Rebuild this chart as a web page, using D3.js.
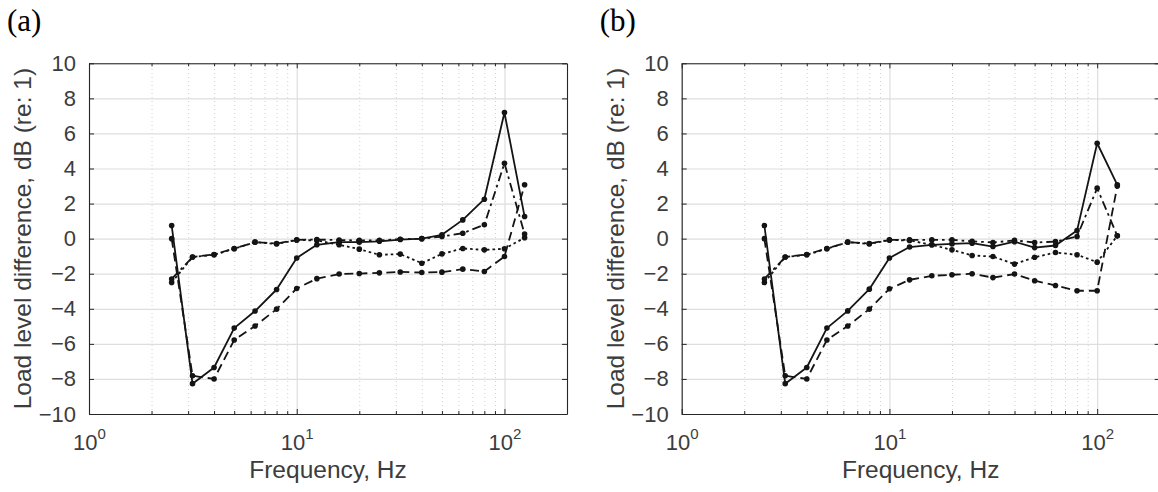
<!DOCTYPE html>
<html>
<head>
<meta charset="utf-8">
<script src="https://cdn.jsdelivr.net/npm/d3@7"></script>
<style>
  html, body { margin: 0; padding: 0; background: #ffffff; }
  svg { display: block; }
</style>
</head>
<body>
<svg id="chart" width="1158" height="492"></svg>
<script>
// ---------------- DATA ----------------
const freqs = [2.5, 3.15, 4, 5, 6.3, 8, 10, 12.5, 16, 20, 25, 31.5, 40, 50, 63, 80, 100, 125];

const solidA   = [0.75, -8.27, -7.35, -5.10, -4.13, -2.90, -1.10, -0.35, -0.20, -0.20, -0.15, -0.05, 0.00, 0.22, 1.07, 2.25, 7.19, 1.26];
const dashedA  = [0.00, -7.82, -8.00, -5.78, -4.98, -4.02, -2.84, -2.28, -2.02, -1.99, -1.95, -1.90, -1.93, -1.91, -1.74, -1.87, -1.02, 3.07];
const dottedA  = [-2.50, -1.05, -0.92, -0.58, -0.20, -0.30, -0.08, -0.10, -0.35, -0.60, -0.92, -0.88, -1.40, -0.87, -0.56, -0.64, -0.58, 0.05];
const dashdotA = [-2.30, -1.05, -0.90, -0.56, -0.20, -0.28, -0.07, -0.05, -0.08, -0.10, -0.10, -0.03, 0.00, 0.12, 0.31, 0.79, 4.30, 0.26];

const solidB   = [0.75, -8.27, -7.35, -5.10, -4.12, -2.88, -1.10, -0.48, -0.35, -0.30, -0.26, -0.45, -0.17, -0.51, -0.39, 0.46, 5.44, 3.07];
const dashedB  = [0.00, -7.82, -8.00, -5.78, -4.98, -4.02, -2.86, -2.35, -2.12, -2.06, -2.00, -2.22, -2.02, -2.40, -2.67, -2.97, -2.97, 3.00];
const dottedB  = [-2.50, -1.05, -0.92, -0.58, -0.20, -0.30, -0.08, -0.10, -0.35, -0.64, -0.96, -1.02, -1.45, -1.06, -0.79, -0.92, -1.34, 0.16];
const dashdotB = [-2.30, -1.05, -0.90, -0.56, -0.20, -0.28, -0.07, -0.07, -0.07, -0.07, -0.15, -0.22, -0.10, -0.22, -0.17, 0.12, 2.88, 0.16];

const panelLabels = ["(a)", "(b)"];
const yTicks = [-10, -8, -6, -4, -2, 0, 2, 4, 6, 8, 10];
const xMajorTicks = [1, 10, 100];
const xMinorTicks = [2,3,4,5,6,7,8,9,20,30,40,50,60,70,80,90,200];
const xDomain = [1, 200];
const yDomain = [-10, 10];
const xLabel = "Frequency, Hz";
const yLabel = "Load level difference, dB (re: 1)";

// ---------------- LAYOUT ----------------
const svg = d3.select("#chart");
const W = 478, topY = 63.3, bottomY = 414;
const lefts = [89, 681.7];
const fontSans = "'Liberation Sans', Arial, Helvetica, sans-serif";
const axisColor = "#262626";
const textColor = "#3c3c3c";
const lineColor = "#141414";

const styles = [
  { dash: null },
  { dash: "9,5" },
  { dash: "2.6,3" },
  { dash: "9,4,2.6,4" }
];

const panels = [
  { series: [solidA, dashedA, dottedA, dashdotA] },
  { series: [solidB, dashedB, dottedB, dashdotB] }
];

panels.forEach((p, pi) => {
  const L = lefts[pi];
  const x = d3.scaleLog().domain(xDomain).range([L, L + W]);
  const y = d3.scaleLinear().domain(yDomain).range([bottomY, topY]);
  const g = svg.append("g");
  const H = bottomY - topY;

  // minor x grid (dotted)
  g.append("g")
    .attr("transform", `translate(0,${bottomY})`)
    .call(d3.axisBottom(x).tickValues(xMinorTicks).tickSize(-H).tickFormat(""))
    .call(s => s.select(".domain").remove())
    .call(s => s.selectAll("line").attr("stroke", "#cfcfcf").attr("stroke-width", 1).attr("stroke-dasharray", "1,3"));

  // major x grid
  g.append("g")
    .attr("transform", `translate(0,${bottomY})`)
    .call(d3.axisBottom(x).tickValues(xMajorTicks).tickSize(-H).tickFormat(""))
    .call(s => s.select(".domain").remove())
    .call(s => s.selectAll("line").attr("stroke", "#dedede").attr("stroke-width", 1.2));

  // major y grid
  g.append("g")
    .attr("transform", `translate(${L},0)`)
    .call(d3.axisLeft(y).tickValues(yTicks).tickSize(-W).tickFormat(""))
    .call(s => s.select(".domain").remove())
    .call(s => s.selectAll("line").attr("stroke", "#dedede").attr("stroke-width", 1.2));

  // series lines
  const clipId = "clip" + pi;
  svg.append("clipPath").attr("id", clipId).append("rect")
    .attr("x", L).attr("y", topY).attr("width", W).attr("height", H);

  const line = d3.line().x((d, i) => x(freqs[i])).y(d => y(d));
  const sg = g.append("g").attr("clip-path", `url(#${clipId})`);
  p.series.forEach((vals, si) => {
    sg.append("path")
      .datum(vals)
      .attr("d", line)
      .attr("fill", "none")
      .attr("stroke", lineColor)
      .attr("stroke-width", 1.8)
      .attr("stroke-linejoin", "round")
      .attr("stroke-dasharray", styles[si].dash);
    sg.selectAll(null)
      .data(vals)
      .enter().append("circle")
      .attr("cx", (d, i) => x(freqs[i]))
      .attr("cy", d => y(d))
      .attr("r", 2.8)
      .attr("fill", lineColor);
  });

  const tickStyle = s => {
    s.selectAll("line").attr("stroke", axisColor);
    s.select(".domain").attr("stroke", axisColor).attr("stroke-width", 1.1);
  };
  // bottom axis
  const bAxis = g.append("g")
    .attr("transform", `translate(0,${bottomY})`)
    .call(d3.axisBottom(x).tickValues(xMajorTicks).tickSizeInner(-5).tickSizeOuter(0).tickPadding(10)
      .tickFormat(d => String(Math.round(Math.log10(d)))))
    .call(tickStyle);
  bAxis.selectAll("text").each(function(d) {
    const t = d3.select(this);
    const e = String(Math.round(Math.log10(d)));
    t.text(null)
      .attr("y", null).attr("dy", null)
      .attr("transform", "translate(0,36)")
      .attr("fill", textColor)
      .style("font-family", fontSans).style("font-size", "22px");
    t.append("tspan").text("10");
    t.append("tspan").attr("dy", -11).style("font-size", "15px").text(e);
  });
  g.append("g")
    .attr("transform", `translate(0,${bottomY})`)
    .call(d3.axisBottom(x).tickValues(xMinorTicks.filter(v => v < 200)).tickSizeInner(-3).tickSizeOuter(0).tickFormat(""))
    .call(tickStyle).call(s => s.select(".domain").remove());

  // top axis
  g.append("g")
    .attr("transform", `translate(0,${topY})`)
    .call(d3.axisTop(x).tickValues(xMajorTicks).tickSizeInner(-5).tickSizeOuter(0).tickFormat(""))
    .call(tickStyle);
  g.append("g")
    .attr("transform", `translate(0,${topY})`)
    .call(d3.axisTop(x).tickValues(xMinorTicks.filter(v => v < 200)).tickSizeInner(-3).tickSizeOuter(0).tickFormat(""))
    .call(tickStyle).call(s => s.select(".domain").remove());

  // left axis
  g.append("g")
    .attr("transform", `translate(${L},0)`)
    .call(d3.axisLeft(y).tickValues(yTicks).tickSizeInner(-5).tickSizeOuter(0).tickPadding(13)
      .tickFormat(d3.format("d")))
    .call(tickStyle)
    .call(s => s.selectAll("text").attr("fill", textColor)
      .style("font-family", fontSans).style("font-size", "22px"));

  // right axis
  g.append("g")
    .attr("transform", `translate(${L + W},0)`)
    .call(d3.axisRight(y).tickValues(yTicks).tickSizeInner(-5).tickSizeOuter(0).tickFormat(""))
    .call(tickStyle);

  // axis labels
  g.append("text")
    .attr("x", L + W / 2).attr("y", 478)
    .attr("text-anchor", "middle")
    .attr("fill", textColor)
    .style("font-family", fontSans).style("font-size", "24.5px")
    .text(xLabel);

  g.append("text")
    .attr("transform", `translate(${L - 58},${(topY + bottomY) / 2}) rotate(-90)`)
    .attr("text-anchor", "middle")
    .attr("fill", textColor)
    .style("font-family", fontSans).style("font-size", "24.5px")
    .text(yLabel);

  // panel label
  g.append("text")
    .attr("x", L - 82).attr("y", 31)
    .attr("fill", "#000")
    .style("font-family", "'Liberation Serif', 'Times New Roman', serif")
    .style("font-size", "31px")
    .text(panelLabels[pi]);
});
</script>
</body>
</html>
